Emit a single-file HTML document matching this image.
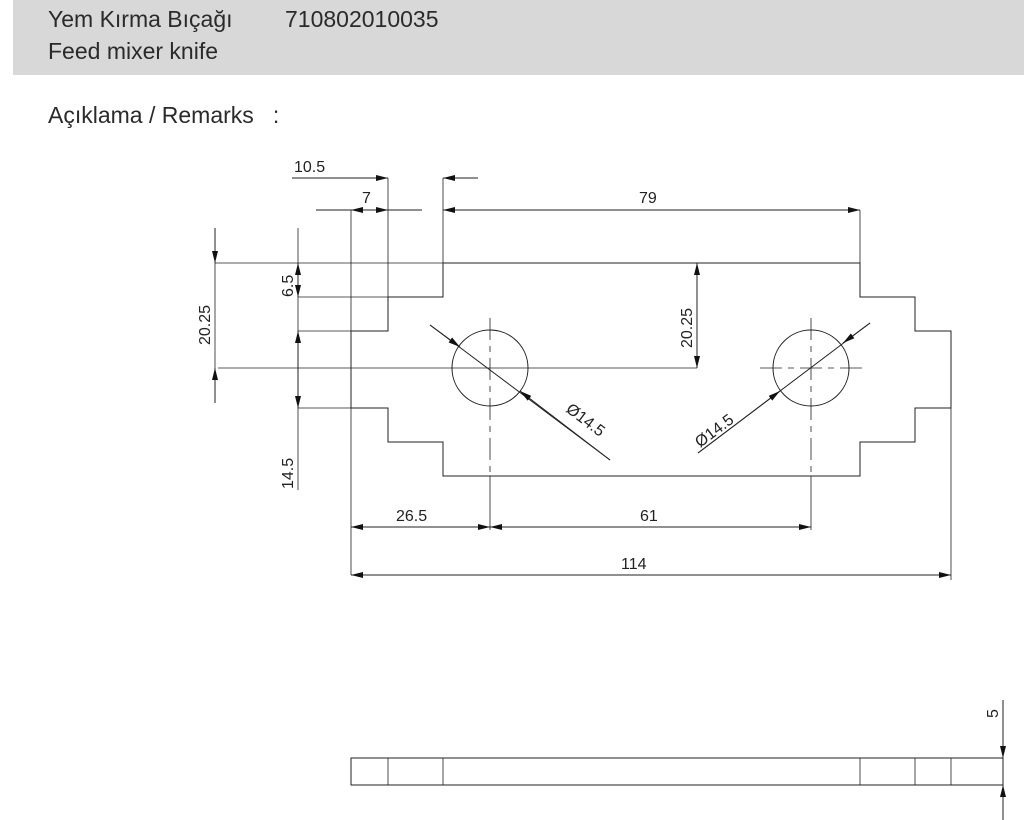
<!DOCTYPE html>
<html><head><meta charset="utf-8"><style>
html,body{margin:0;padding:0;background:#fff;width:1024px;height:820px;overflow:hidden}
.hd{position:absolute;left:13px;top:0;width:1011px;height:75px;background:#d8d8d8}
.t{position:absolute;font-family:"Liberation Sans",sans-serif;font-size:23px;color:#2a2a2a;white-space:pre}
svg{position:absolute;left:0;top:0}
</style></head><body>
<div class="hd"></div>
<div class="t" style="left:48px;top:6px">Yem Kırma Bıçağı</div>
<div class="t" style="left:285px;top:6px">710802010035</div>
<div class="t" style="left:48px;top:38px">Feed mixer knife</div>
<div class="t" style="left:48px;top:102px">Açıklama / Remarks   :</div>
<svg width="1024" height="820" viewBox="0 0 1024 820" font-family="Liberation Sans, sans-serif" font-size="16" fill="none" stroke="#222" stroke-width="1">
<defs>
<marker id="a" viewBox="0 0 12 6" refX="12" refY="3" markerWidth="12" markerHeight="6" orient="auto" markerUnits="userSpaceOnUse"><path d="M0,0 L12,3 L0,6 z" fill="#111" stroke="none"/></marker>
</defs>
<path d="M443,263 H697 V368 M443,263 V297 H388 V331 H351 V408 H388 V442 H443 V476 H860 V442 H915 V408 H951 V331 H915 V297 H860 V263 H697"/>
<path stroke-width="0.8" d="M215,263 H443 M298,297 H388 M298,331 H351 M218,368 H697 M298,408 H351 M351,210 V575 M388,178 V331 M443,178 V263 M951,408 V580 M490,476 V530 M811,476 V530"/>
<circle cx="490" cy="368" r="38"/>
<circle cx="811" cy="368" r="38"/>
<path stroke-width="0.8" stroke-dasharray="22,6,6,6" d="M490,318 V476 M811,318 V476 M760,368 H862"/>
<line x1="430" y1="325" x2="610" y2="460"/>
<line x1="430" y1="325" x2="460" y2="347" marker-end="url(#a)"/>
<line x1="610" y1="460" x2="520" y2="391" marker-end="url(#a)"/>
<line x1="870" y1="323" x2="698" y2="453"/>
<line x1="870" y1="323" x2="843" y2="343" marker-end="url(#a)"/>
<line x1="698" y1="453" x2="780" y2="391" marker-end="url(#a)"/>
<line x1="292" y1="178" x2="388" y2="178" marker-end="url(#a)"/>
<line x1="478" y1="178" x2="443" y2="178" marker-end="url(#a)"/>
<line x1="316" y1="210" x2="422" y2="210"/>
<line x1="369" y1="210" x2="351" y2="210" marker-end="url(#a)"/>
<line x1="369" y1="210" x2="388" y2="210" marker-end="url(#a)"/>
<line x1="650" y1="210" x2="443" y2="210" marker-end="url(#a)"/>
<line x1="650" y1="210" x2="860" y2="210" marker-end="url(#a)"/>
<line x1="860" y1="210" x2="860" y2="263" stroke-width="0.8"/>
<line x1="420" y1="527" x2="351" y2="527" marker-end="url(#a)"/>
<line x1="420" y1="527" x2="490" y2="527" marker-end="url(#a)"/>
<line x1="650" y1="527" x2="490" y2="527" marker-end="url(#a)"/>
<line x1="650" y1="527" x2="811" y2="527" marker-end="url(#a)"/>
<line x1="650" y1="575" x2="351" y2="575" marker-end="url(#a)"/>
<line x1="650" y1="575" x2="951" y2="575" marker-end="url(#a)"/>
<line x1="215" y1="228" x2="215" y2="263" marker-end="url(#a)"/>
<line x1="215" y1="403" x2="215" y2="368" marker-end="url(#a)"/>
<line x1="215" y1="263" x2="215" y2="368" stroke-width="0.8"/>
<line x1="298" y1="228" x2="298" y2="490" stroke-width="0.8"/>
<line x1="298" y1="280" x2="298" y2="263" marker-end="url(#a)"/>
<line x1="298" y1="280" x2="298" y2="297" marker-end="url(#a)"/>
<line x1="298" y1="370" x2="298" y2="331" marker-end="url(#a)"/>
<line x1="298" y1="370" x2="298" y2="408" marker-end="url(#a)"/>
<line x1="697" y1="315" x2="697" y2="263" marker-end="url(#a)"/>
<line x1="697" y1="315" x2="697" y2="368" marker-end="url(#a)"/>
<rect x="351" y="758" width="652" height="27"/>
<path stroke-width="0.8" d="M388,758 V785 M443,758 V785 M860,758 V785 M915,758 V785 M951,758 V785"/>
<line x1="1003" y1="700" x2="1003" y2="758" marker-end="url(#a)"/>
<line x1="1003" y1="820" x2="1003" y2="785" marker-end="url(#a)"/>
<g fill="#222" stroke="none">
<text x="294" y="172">10.5</text>
<text x="362" y="203">7</text>
<text x="639" y="203">79</text>
<text x="396" y="521">26.5</text>
<text x="640" y="521">61</text>
<text x="621" y="569">114</text>
<text transform="translate(210,345) rotate(-90)">20.25</text>
<text transform="translate(293,297) rotate(-90)">6.5</text>
<text transform="translate(293,489) rotate(-90)">14.5</text>
<text transform="translate(692,348) rotate(-90)">20.25</text>
<text transform="translate(998,718) rotate(-90)">5</text>
<text transform="translate(565,411) rotate(36.9)">Ø14.5</text>
<text transform="translate(700,448) rotate(-36.9)">Ø14.5</text>
</g>
</svg>
</body></html>
